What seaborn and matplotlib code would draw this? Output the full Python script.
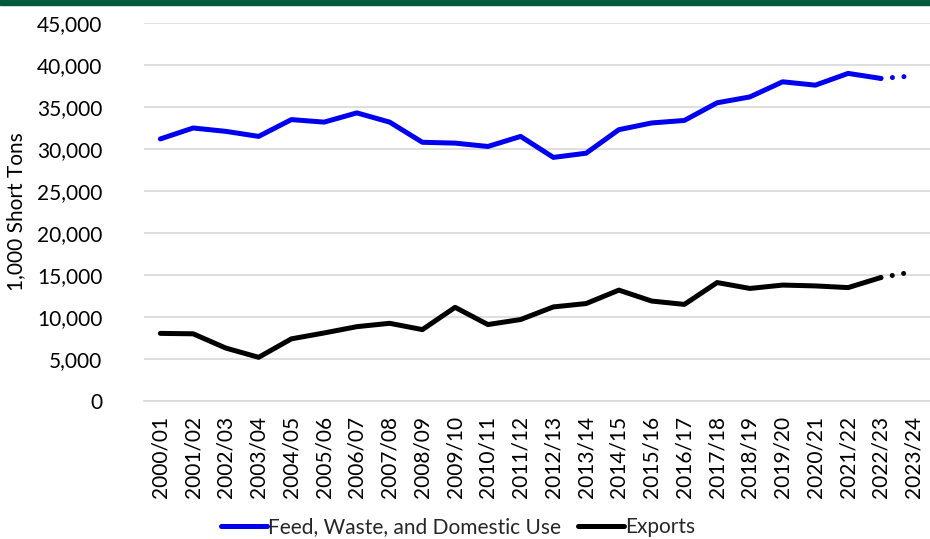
import matplotlib
matplotlib.use("Agg")
import matplotlib.pyplot as plt
import matplotlib.patches as mpatches
import pandas as pd
import seaborn as sns
from matplotlib.ticker import FuncFormatter, MultipleLocator

# marketing years on the x axis
YEARS = [
    "2000/01", "2001/02", "2002/03", "2003/04", "2004/05", "2005/06",
    "2006/07", "2007/08", "2008/09", "2009/10", "2010/11", "2011/12",
    "2012/13", "2013/14", "2014/15", "2015/16", "2016/17", "2017/18",
    "2018/19", "2019/20", "2020/21", "2021/22", "2022/23", "2023/24",
]

# 1,000 short tons, last value is the projection
FEED_DOMESTIC = [
    31200, 32500, 32100, 31500, 33500, 33200, 34300, 33200, 30800, 30700,
    30300, 31500, 29000, 29500, 32300, 33100, 33400, 35500, 36200, 38000,
    37600, 39000, 38400, 38700,
]
EXPORTS = [
    8050, 8000, 6300, 5200, 7400, 8100, 8850, 9250, 8500, 11150,
    9100, 9700, 11200, 11600, 13200, 11900, 11500, 14100, 13400, 13800,
    13700, 13500, 14700, 15400,
]

FEED_LABEL = "Feed, Waste, and Domestic Use"
EXPORT_LABEL = "Exports"
COLORS = {FEED_LABEL: "#0000ee", EXPORT_LABEL: "#000000"}

n_actual = len(YEARS) - 1

rows = []
for i, year in enumerate(YEARS):
    rows.append({"pos": i, "year": year, "series": FEED_LABEL,
                 "value": FEED_DOMESTIC[i], "projected": i >= n_actual})
    rows.append({"pos": i, "year": year, "series": EXPORT_LABEL,
                 "value": EXPORTS[i], "projected": i >= n_actual})
df = pd.DataFrame(rows)

sns.set_theme(style="white")
plt.rcParams["font.family"] = ["Lato", "DejaVu Sans"]

fig = plt.figure(figsize=(9.3, 5.39), dpi=100)
ax = fig.add_axes([144 / 930, 138 / 539, 786 / 930, 378 / 539])

actual = df[df["pos"] < n_actual]
sns.lineplot(data=actual, x="pos", y="value", hue="series", palette=COLORS,
             linewidth=3.6, ax=ax, legend=False, solid_capstyle="round")

# projected segment drawn dotted
proj = df[df["pos"] >= n_actual - 1]
for name, grp in proj.groupby("series"):
    sns.lineplot(data=grp, x="pos", y="value", color=COLORS[name],
                 linewidth=3.6, ax=ax, legend=False,
                 dashes=False, linestyle=(0, (0.01, 2.3)),
                 dash_capstyle="round")

ax.set_xlim(-0.5, len(YEARS) - 0.5)
ax.set_ylim(0, 45000)
ax.yaxis.set_major_locator(MultipleLocator(5000))
ax.yaxis.set_major_formatter(FuncFormatter(lambda v, p: f"{int(v):,}"))
ax.set_xticks(range(len(YEARS)))
ax.set_xticklabels(YEARS, rotation=90)

ax.grid(axis="y", color="#d9d9d9", linewidth=1.2)
ax.set_axisbelow(True)
for side in ["top", "right", "left"]:
    ax.spines[side].set_visible(False)
ax.spines["bottom"].set_color("#d9d9d9")
ax.spines["bottom"].set_linewidth(1.2)

ax.tick_params(axis="y", length=0, pad=30, labelsize=15, labelcolor="#000000")
ax.tick_params(axis="x", length=0, pad=11, labelsize=15, labelcolor="#000000")
ax.set_xlabel("")
ax.set_ylabel("1,000 Short Tons", fontsize=15, color="#000000", labelpad=8)

handles = [
    plt.Line2D([], [], color=COLORS[FEED_LABEL], linewidth=3.6,
               solid_capstyle="round"),
    plt.Line2D([], [], color=COLORS[EXPORT_LABEL], linewidth=3.6,
               solid_capstyle="round"),
]
fig.legend(handles, [FEED_LABEL, EXPORT_LABEL], loc="center",
           bbox_to_anchor=(458 / 930, 1 - 527 / 539), ncol=2, frameon=False,
           fontsize=15, handlelength=2.2, handletextpad=0.05,
           columnspacing=0.8)

# dark green band across the top
fig.patches.append(mpatches.Rectangle((0, 1 - 5 / 539), 1, 5 / 539,
                                      transform=fig.transFigure,
                                      color="#005a3c", zorder=10))

fig.savefig("out.png", dpi=100)
